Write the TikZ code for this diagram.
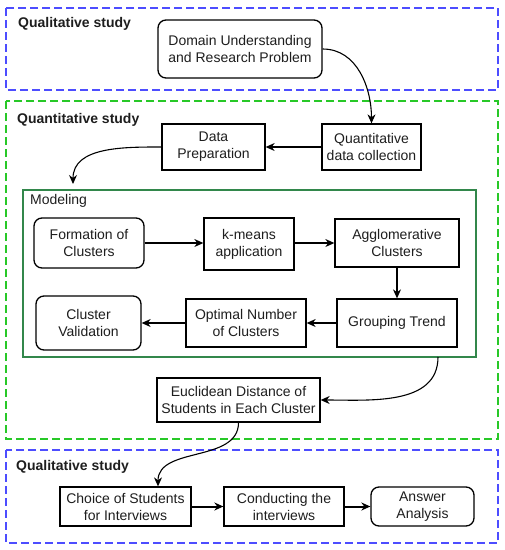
\documentclass[tikz,border=0pt]{standalone}
\usepackage{fontspec}
\setmainfont{Liberation Sans}
\usetikzlibrary{arrows.meta,calc}
\definecolor{qblue}{RGB}{77,77,255}
\definecolor{qgreen}{RGB}{40,200,40}
\definecolor{mgreen}{RGB}{50,135,75}
\definecolor{txt}{RGB}{30,30,30}
\tikzset{
  x=1pt,y=1pt,
  every node/.style={font=\fontsize{14}{17}\selectfont, text=txt},
  box/.style={draw=black, line width=1.3pt, align=center, inner sep=0pt, fill=white},
  rbox/.style={box, rounded corners=8pt},
  qual/.style={draw=qblue, line width=2pt, dash pattern=on 8pt off 4pt},
  quan/.style={draw=qgreen, line width=2pt, dash pattern=on 8pt off 4pt},
  lbl/.style={anchor=west, inner sep=0pt, font=\fontsize{14}{17}\selectfont\bfseries},
  arr/.style={-{Stealth[length=9pt,width=8pt]}, line width=1.1pt, draw=black},
  tarr/.style={-{Stealth[length=9pt,width=8pt]}, line width=2pt, draw=black},
}
\begin{document}
\begin{tikzpicture}
\useasboundingbox (0,0) rectangle (505,-550);
% study regions
\draw[qual] (6,-8) rectangle (498,-90);
\draw[quan] (6,-101) rectangle (498,-439);
\draw[qual] (6,-450) rectangle (498,-543);
\node[lbl] (l1) at (18,-24) {Qualitative study};
\node[lbl] (l2) at (17,-120) {Quantitative study};
\node[lbl] (l3) at (16,-467) {Qualitative study};
% modeling
\draw[draw=mgreen, line width=1.2pt] (23,-190) rectangle (476,-357);
\node[anchor=west, inner sep=0pt] (mlbl) at (30,-201) {Modeling};
\coordinate (mtop) at (73,-184);
\coordinate (mbot) at (438,-357);
% nodes
\node[rbox, minimum width=164pt, minimum height=58pt] (dom) at (240,-49) {Domain Understanding\\and Research Problem};
\node[box, minimum width=103pt, minimum height=46pt] (prep) at (213.5,-147) {Data\\Preparation};
\node[box, minimum width=99pt, minimum height=46pt] (quant) at (371.5,-147) {Quantitative\\data collection};
\node[rbox, minimum width=110pt, minimum height=50pt] (form) at (89,-243) {Formation of\\Clusters};
\node[box, minimum width=90pt, minimum height=52pt] (kmeans) at (249,-244) {k-means\\application};
\node[box, minimum width=124pt, minimum height=48pt] (aggl) at (397,-243) {Agglomerative\\Clusters};
\node[box, minimum width=120pt, minimum height=48pt] (group) at (397,-323) {Grouping Trend};
\node[box, minimum width=120pt, minimum height=48pt] (optim) at (246,-323) {Optimal Number\\of Clusters};
\node[rbox, minimum width=105pt, minimum height=54pt] (valid) at (88.5,-323) {Cluster\\Validation};
\node[box, minimum width=163pt, minimum height=44pt] (eucl) at (238.5,-400) {Euclidean Distance of\\Students in Each Cluster};
\node[box, minimum width=131pt, minimum height=39pt] (choice) at (125.5,-506.5) {Choice of Students\\for Interviews};
\node[box, minimum width=120pt, minimum height=39pt] (cond) at (284,-506.5) {Conducting the\\interviews};
\node[rbox, minimum width=103pt, minimum height=39pt] (ans) at (422.5,-506.5) {Answer\\Analysis};
\coordinate (ctop) at ($(choice.north)+(32.5,0)$);
% connectors
\draw[arr] (dom.east) to[out=0,in=90] (quant.north);
\draw[arr] (quant.west) -- (prep.east);
\draw[arr] (prep.west) to[out=180,in=90] (mtop);
\draw[arr] (form.east) -- (form.east -| kmeans.west);
\draw[arr] (kmeans.east |- form.east) -- (form.east -| aggl.west);
\draw[arr] (aggl.south) -- (group.north);
\draw[arr] (group.west) -- (optim.east);
\draw[arr] (optim.west) -- (valid.east);
\draw[arr] (mbot) to[out=-90,in=0] (eucl.east);
\draw[arr] (eucl.south) to[out=-90,in=90] (ctop);
\draw[tarr] (choice.east) -- (cond.west);
\draw[tarr] (cond.east) -- (ans.west);
\end{tikzpicture}
\end{document}
